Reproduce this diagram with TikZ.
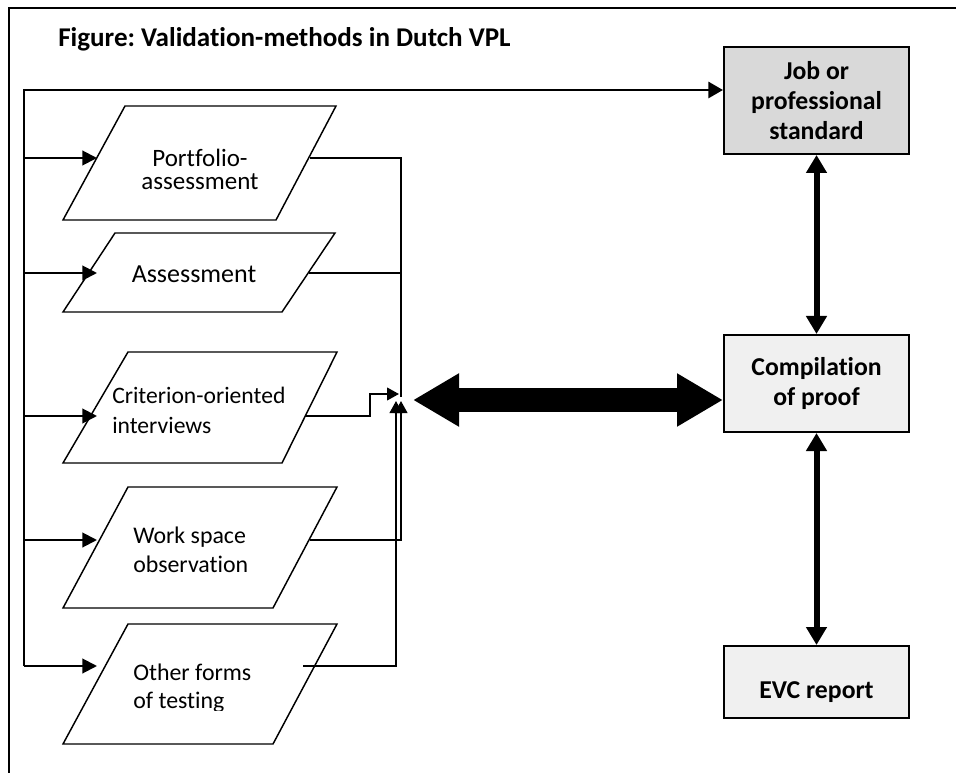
\documentclass[tikz,border=0pt]{standalone}
\usepackage{fontspec}
\setmainfont{Carlito}[Ligatures=NoCommon]
\usetikzlibrary{arrows.meta}
\definecolor{jobfill}{HTML}{D9D9D9}
\definecolor{boxfill}{HTML}{F0F0F0}
\frenchspacing
\begin{document}
\begin{tikzpicture}[x=0.75pt,y=-0.75pt,
  para/.style={draw=black, line width=1.1pt, fill=white},
  branch/.style={line width=1.5pt, -{Triangle[length=11pt,width=11pt]}},
  feed/.style={line width=1.5pt},
  feedarrow/.style={line width=1.5pt, -{Triangle[length=9pt,width=9.5pt]}},
  ptext/.style={inner sep=0pt, font=\fontsize{17.7}{22.5}\selectfont},
  box/.style={draw, line width=1.5pt, minimum width=138.75pt, align=center, font=\bfseries\fontsize{19.3}{22.5}\selectfont},
  thickarrow/.style={line width=4.5pt, {Triangle[length=13.5pt,width=15pt]}-{Triangle[length=13.5pt,width=15pt]}},
  bigarrow/.style={line width=18pt, {Triangle[length=34.5pt,width=37.5pt]}-{Triangle[length=34.5pt,width=37.5pt]}}
]
\useasboundingbox (0,0) rectangle (956,773);
% outer frame
\draw[line width=1.5pt] (9,773) -- (9,8) -- (956,8);
% title
\node[anchor=base west, inner sep=0pt, font=\bfseries\fontsize{20.3}{24}\selectfont] (title) at (58,46.5) {Figure: Validation-methods in Dutch VPL};

% right boxes
\node[box, fill=jobfill, minimum height=80.25pt] (job) at (816.5,100.5) {Job or\\professional\\standard};
\node[box, fill=boxfill, minimum height=72.75pt] (comp) at (816.5,383.5) {Compilation\\of proof};
\node[box, fill=boxfill, minimum height=54pt, text height=24pt, text depth=0pt] (evc) at (816.5,682) {EVC report};
\draw[thickarrow] (comp.north) -- (job.south);
\draw[thickarrow] (comp.south) -- (evc.north);

% parallelograms
\draw[para] (63,220) -- (276,220) -- (336,106) -- (125,106) -- cycle;
\draw[para] (63,312) -- (282,312) -- (335,233) -- (115,233) -- cycle;
\draw[para] (63,463) -- (282,463) -- (337,352) -- (128,352) -- cycle;
\draw[para] (63,608) -- (273,608) -- (337,487) -- (128,487) -- cycle;
\draw[para] (63,744) -- (273,744) -- (337,624) -- (128,624) -- cycle;

% texts (base anchor = baseline of the last line)
\node[ptext, font=\fontsize{18.75}{17.25}\selectfont, align=center, anchor=base] (t1) at (200,190) {Portfolio-\\assessment};
\node[ptext, font=\fontsize{19.5}{23}\selectfont, anchor=base] (t2) at (194,283) {Assessment};
\node[ptext, align=left, anchor=base west] (t3) at (112,433) {Criterion-oriented\\interviews};
\node[ptext, font=\fontsize{17.9}{21.75}\selectfont, align=left, anchor=base west] (t4) at (133,572) {Work space\\observation};
\begin{scope}
\clip (100,600) rectangle (330,710.5);
\node[ptext, font=\fontsize{17.9}{21}\selectfont, align=left, anchor=base west] (t5) at (133,708) {Other forms\\of testing};
\end{scope}

% left loop
\coordinate (TL) at (24,90);
\coordinate (BL) at (24,666);
\coordinate (b1) at (24,158);
\coordinate (b2) at (24,273);
\coordinate (b3) at (24,416);
\coordinate (b4) at (24,540);
\coordinate (in1) at (97,158);
\coordinate (in2) at (97,273);
\coordinate (in3) at (97,416);
\coordinate (in4) at (97,540);
\coordinate (in5) at (97,666);
\draw[line width=2.2pt, -{Triangle[length=11pt,width=12pt]}] (BL) -- (TL) -- (TL -| job.west);
\draw[branch] (b1) -- (in1);
\draw[branch] (b2) -- (in2);
\draw[branch] (b3) -- (in3);
\draw[branch] (b4) -- (in4);
\draw[branch] (BL) -- (in5);

% right side collectors
\coordinate (o1) at (310,158);
\coordinate (o2) at (309,273);
\coordinate (o3) at (305,416);
\coordinate (o4) at (310,540);
\coordinate (o5) at (303,666);
\coordinate (c1) at (401,158);
\coordinate (c2) at (401,273);
\coordinate (c1end) at (401,397);
\coordinate (s3a) at (370,416);
\coordinate (s3b) at (370,394);
\coordinate (j3) at (399,394);
\coordinate (c4) at (401,540);
\coordinate (j4) at (401,401);
\coordinate (c5) at (396,666);
\coordinate (j5) at (396,401);
\draw[feed] (o1) -- (c1) -- (c1end);
\draw[feed] (o2) -- (c2);
\draw[feedarrow] (o3) -- (s3a) -- (s3b) -- (j3);
\draw[feedarrow] (o4) -- (c4) -- (j4);
\draw[feedarrow] (o5) -- (c5) -- (j5);

% big double arrow
\coordinate (J) at (413,400);
\draw[bigarrow] (J) -- (J -| comp.west);
\end{tikzpicture}
\end{document}
